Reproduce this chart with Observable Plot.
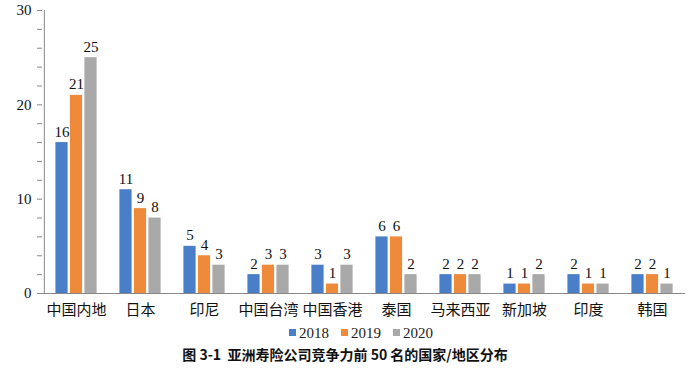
<!DOCTYPE html>
<html><head><meta charset="utf-8">
<script src="https://cdn.jsdelivr.net/npm/d3@7"></script>
<script src="https://cdn.jsdelivr.net/npm/@observablehq/plot@0.6"></script>
<style>
body{margin:0;background:#fff;font-family:'Liberation Serif','DejaVu Serif','Noto Sans CJK SC',serif;}
#legend{display:flex;justify-content:center;gap:12px;font-size:15px;height:22px;align-items:center;margin-left:22px;margin-top:2px;color:#222}
#legend span.sw{display:inline-block;width:7px;height:7px;margin-right:3px;vertical-align:2px}
#caption{text-align:center;font-family:'Noto Sans CJK SC',sans-serif;font-weight:bold;font-size:14px;margin-left:-10px;margin-top:0px;color:#111}
svg text{font-family:'Liberation Serif','Noto Sans CJK SC',serif;}
</style></head>
<body>
<div id="chart"></div>
<div id="legend"></div>
<div id="caption">图 3-1&nbsp; 亚洲寿险公司竞争力前 50 名的国家/地区分布</div>
<script>
const categories = ["中国内地","日本","印尼","中国台湾","中国香港","泰国","马来西亚","新加坡","印度","韩国"];
const years = ["2018","2019","2020"];
const values2018 = [16,11,5,2,3,6,2,1,2,2];
const values2019 = [21,9,4,3,1,6,2,1,1,2];
const values2020 = [25,8,3,3,3,2,2,2,1,1];
const yTicks = [0,10,20,30];
const colors = ["#4a7ec9","#ef8a3b","#a9a9a9"];

const series = [values2018, values2019, values2020];
const data = [];
years.forEach((y,i)=>categories.forEach((c,j)=>data.push({year:y, category:c, value:series[i][j]})));

const band = (700-42-15)/categories.length;
const barW = 12.5, off = 14.5;
const marks = [];
years.forEach((y,i)=>{
  const shift = (i-1)*off;
  const il = (band-barW)/2 + shift, ir = (band-barW)/2 - shift;
  const d = data.filter(r=>r.year===y);
  marks.push(Plot.barY(d,{x:"category",y:"value",fill:colors[i],insetLeft:il,insetRight:ir}));
  marks.push(Plot.text(d,{x:"category",y:"value",text:d=>String(d.value),dx:shift,dy:-6,lineAnchor:"bottom",fontSize:15,fill:"#111"}));
});

const chart = Plot.plot({
  width:700, height:320,
  marginLeft:42, marginRight:15, marginTop:10, marginBottom:27,
  style:{fontSize:"15px", color:"#111", background:"#fff"},
  x:{domain:categories, padding:0, label:null},
  y:{domain:[0,30], label:null},
  marks:[
    Plot.axisX({tickSize:0, tickPadding:11, label:null, fontSize:15}),
    Plot.axisY({ticks:d3.range(0,31,2), tickSize:5, tickPadding:6, label:null, stroke:"#888", tickFormat:d=>yTicks.includes(d)?String(d):"", fontSize:15}),
    Plot.ruleX([categories[0]],{x:d=>d, dx:-band/2, y1:0, y2:30, stroke:"#888"}),
    ...marks,
    Plot.ruleY([0],{stroke:"#888"})
  ]
});
document.getElementById("chart").appendChild(chart);

const lg = document.getElementById("legend");
years.forEach((y,i)=>{
  const s = document.createElement("span");
  s.innerHTML = `<span class="sw" style="background:${colors[i]}"></span>${y}`;
  lg.appendChild(s);
});
</script>
</body></html>
